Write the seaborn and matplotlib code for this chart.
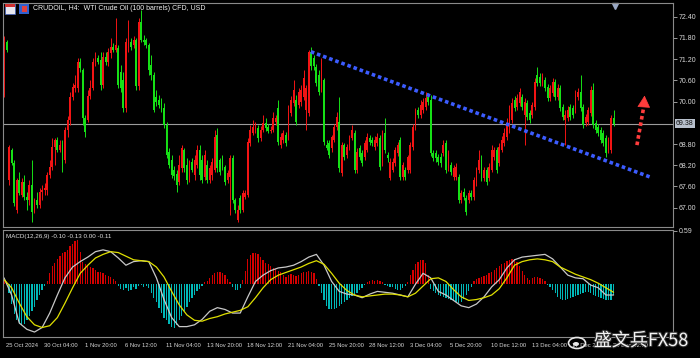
import matplotlib
matplotlib.use("Agg")
import numpy as np
import pandas as pd
import matplotlib.pyplot as plt
import seaborn as sns
from matplotlib.transforms import blended_transform_factory, ScaledTranslation
from matplotlib.patches import Rectangle, Ellipse
import matplotlib.patheffects as pe

# ---------------- data ----------------
opens = [
 70.19, 71.68, 67.78, 68.63, 68.26, 66.94, 67.78, 67.36, 67.73, 67.30,
 67.22, 67.64, 66.88, 67.22, 67.08, 67.44, 67.50, 67.50, 67.92, 68.15,
 68.72, 68.91, 68.63, 68.77, 68.35, 69.20, 69.48, 70.13, 70.38, 70.38,
 71.12, 70.89, 69.54, 69.48, 70.16, 70.38, 71.12, 71.23, 71.18, 70.47,
 71.26, 71.12, 71.37, 71.54, 71.46, 71.52, 70.84, 70.61, 69.82, 71.52,
 71.68, 71.60, 71.74, 70.44, 72.25, 71.74, 71.74, 71.60, 71.03, 70.75,
 70.13, 70.05, 69.99, 69.82, 69.34, 68.58, 68.35, 68.07, 67.95, 67.73,
 68.12, 68.63, 68.21, 67.78, 68.29, 67.92, 68.21, 68.63, 68.35, 67.87,
 68.21, 67.78, 67.92, 68.07, 69.06, 68.35, 68.43, 68.15, 67.78, 67.87,
 68.41, 67.22, 66.65, 67.27, 66.94, 67.30, 67.36, 68.83, 69.11, 69.20,
 69.25, 68.97, 69.20, 69.40, 69.28, 69.17, 69.20, 69.42, 69.82, 68.77,
 68.91, 69.06, 69.00, 69.68, 69.96, 70.05, 69.90, 69.99, 70.13, 69.76,
 69.68, 71.40, 71.23, 70.98, 70.75, 70.33, 70.61, 68.77, 68.83, 68.69,
 68.91, 69.28, 69.42, 67.98, 68.77, 68.49, 68.69, 68.97, 69.11, 68.07,
 68.69, 68.55, 68.43, 68.63, 68.97, 68.91, 68.72, 68.83, 68.97, 68.26,
 69.11, 68.49, 67.84, 68.07, 68.26, 68.55, 68.91, 67.87, 68.07, 68.07,
 68.07, 68.72, 69.28, 69.76, 69.62, 69.76, 69.85, 70.13, 70.05, 68.55,
 68.55, 68.43, 68.43, 68.55, 68.83, 68.12, 68.21, 67.87, 67.87, 67.87,
 67.22, 67.44, 67.27, 67.22, 67.42, 67.30, 67.70, 68.07, 68.35, 67.84,
 68.07, 67.84, 68.07, 68.43, 68.63, 68.26, 68.63, 68.83, 69.00, 69.20,
 69.48, 70.05, 69.85, 69.96, 70.13, 69.62, 69.96, 69.68, 69.62, 69.85,
 70.75, 70.70, 70.53, 70.61, 70.41, 70.10, 70.24, 70.55, 70.13, 70.38,
 69.85, 69.48, 69.54, 69.85, 69.82, 69.76, 70.13, 70.27, 69.85, 69.40,
 69.42, 69.68, 70.33, 69.40, 69.28, 69.20, 69.11, 68.97, 68.63, 68.63,
 69.54]
closes = [
 71.80, 71.46, 68.72, 68.26, 67.13, 67.78, 67.42, 67.73, 67.30, 67.22,
 67.64, 66.88, 67.22, 67.08, 67.44, 67.50, 67.56, 67.92, 68.15, 68.72,
 68.91, 68.63, 68.77, 68.26, 69.20, 69.48, 70.13, 70.41, 70.47, 71.12,
 70.95, 69.54, 69.14, 70.16, 70.38, 71.12, 71.23, 71.12, 70.47, 71.26,
 71.12, 71.40, 71.54, 71.46, 71.60, 70.47, 70.38, 69.82, 71.68, 71.74,
 71.54, 71.74, 70.44, 72.25, 71.74, 71.68, 71.60, 70.89, 70.75, 69.76,
 69.99, 69.90, 69.76, 69.34, 68.49, 68.21, 67.92, 67.90, 67.64, 68.21,
 68.69, 68.12, 67.78, 68.12, 68.07, 68.35, 68.63, 67.92, 67.78, 68.49,
 67.78, 68.12, 68.29, 69.00, 68.12, 68.01, 68.15, 67.73, 67.98, 68.41,
 67.22, 66.94, 66.94, 66.94, 67.42, 67.42, 68.86, 69.20, 69.28, 69.25,
 68.97, 69.20, 69.40, 69.25, 69.17, 69.20, 69.54, 69.54, 68.86, 69.00,
 69.11, 68.83, 69.68, 70.05, 70.33, 69.42, 70.27, 70.33, 70.67, 70.38,
 71.40, 71.01, 71.01, 70.53, 70.27, 71.09, 68.86, 68.69, 68.49, 69.00,
 69.28, 69.56, 68.12, 68.77, 68.43, 68.72, 68.97, 69.20, 68.07, 68.58,
 68.43, 68.26, 68.83, 69.00, 68.86, 68.83, 68.91, 69.00, 68.15, 69.11,
 68.63, 68.41, 68.29, 68.29, 68.63, 68.77, 67.87, 68.21, 67.87, 68.43,
 68.77, 69.28, 69.71, 69.62, 69.90, 69.99, 70.10, 69.99, 68.55, 68.41,
 68.41, 68.29, 68.26, 68.77, 68.07, 68.55, 68.01, 68.12, 68.15, 67.22,
 67.42, 67.30, 66.88, 67.42, 67.30, 67.78, 68.07, 68.35, 67.84, 68.07,
 67.73, 68.15, 68.63, 68.63, 68.07, 68.72, 68.91, 69.11, 69.40, 69.76,
 69.96, 69.82, 70.10, 70.27, 69.85, 69.99, 69.56, 69.48, 69.90, 70.55,
 70.53, 70.53, 70.70, 70.38, 70.10, 70.38, 70.55, 70.13, 70.38, 69.82,
 69.56, 69.62, 69.76, 69.56, 69.62, 70.19, 70.27, 69.82, 69.34, 69.56,
 69.76, 70.33, 69.34, 69.20, 69.11, 68.91, 68.83, 68.55, 68.91, 69.54,
 69.38]
highs = [
 71.85, 71.74, 68.77, 68.69, 68.35, 67.84, 68.01, 67.84, 67.92, 67.44,
 67.78, 68.35, 67.27, 67.44, 67.56, 67.64, 67.70, 68.01, 68.35, 68.97,
 68.97, 69.00, 68.91, 68.91, 69.28, 69.59, 70.27, 70.53, 70.75, 71.23,
 71.23, 70.95, 69.62, 70.33, 70.61, 71.23, 71.40, 71.32, 71.40, 71.40,
 71.40, 71.52, 71.80, 71.66, 72.36, 71.60, 71.03, 70.84, 71.80, 72.31,
 71.80, 71.85, 71.80, 72.36, 72.59, 71.88, 71.80, 71.66, 71.32, 70.84,
 70.33, 70.19, 70.10, 69.96, 69.42, 68.69, 68.49, 68.18, 68.07, 68.49,
 68.77, 68.69, 68.41, 68.35, 68.41, 68.49, 68.77, 68.77, 68.49, 68.63,
 68.35, 68.21, 68.41, 69.20, 69.25, 68.41, 68.49, 68.21, 68.07, 68.49,
 68.49, 67.27, 67.08, 67.36, 67.50, 67.50, 68.97, 69.34, 69.48, 69.42,
 69.34, 69.31, 69.62, 69.54, 69.37, 69.31, 69.71, 69.62, 70.05, 69.11,
 69.20, 69.14, 69.90, 70.16, 70.61, 70.19, 70.38, 70.47, 70.89, 70.47,
 71.46, 71.54, 71.32, 71.06, 70.89, 71.23, 70.67, 68.91, 68.91, 69.06,
 69.37, 69.71, 70.13, 68.86, 68.83, 68.80, 69.06, 69.34, 69.20, 68.69,
 68.77, 68.63, 68.91, 69.11, 69.06, 69.00, 69.03, 69.11, 69.06, 69.20,
 69.54, 68.58, 68.41, 68.41, 68.72, 68.86, 69.00, 68.29, 68.15, 68.49,
 68.86, 69.37, 69.82, 69.85, 70.05, 70.10, 70.27, 70.24, 70.19, 68.63,
 68.63, 68.52, 68.55, 68.91, 68.91, 68.63, 68.29, 68.21, 68.26, 67.95,
 67.50, 67.56, 67.36, 67.50, 67.50, 67.87, 68.15, 68.63, 68.49, 68.15,
 68.15, 68.26, 68.77, 68.72, 68.72, 68.83, 69.03, 69.25, 69.54, 69.90,
 70.10, 70.16, 70.21, 70.38, 70.21, 70.10, 70.05, 69.76, 69.99, 70.67,
 70.98, 70.81, 70.81, 70.70, 70.50, 70.47, 70.67, 70.64, 70.50, 70.47,
 69.93, 69.76, 69.88, 69.93, 69.90, 70.33, 70.38, 70.75, 69.93, 69.65,
 69.85, 70.44, 70.53, 69.48, 69.37, 69.28, 69.20, 69.06, 69.00, 69.62,
 69.76]
lows = [
 70.13, 71.40, 67.64, 68.21, 67.05, 66.85, 67.36, 67.30, 67.22, 66.94,
 67.08, 66.60, 66.85, 66.99, 66.99, 67.22, 67.36, 67.36, 67.84, 68.07,
 68.21, 68.58, 68.58, 68.01, 68.26, 69.00, 69.34, 70.05, 70.27, 70.27,
 70.84, 69.34, 69.00, 69.42, 70.07, 70.33, 71.01, 71.06, 70.33, 70.38,
 71.03, 71.01, 71.23, 71.40, 71.40, 70.38, 70.27, 69.71, 69.71, 71.40,
 71.46, 71.52, 70.33, 70.33, 71.68, 71.60, 71.52, 70.75, 70.61, 69.71,
 69.88, 69.82, 69.71, 69.25, 68.41, 68.12, 67.84, 67.78, 67.44, 67.64,
 68.01, 68.01, 67.67, 67.73, 68.01, 67.78, 68.12, 67.78, 67.70, 67.78,
 67.70, 67.70, 67.78, 68.01, 68.01, 67.92, 68.07, 67.64, 67.70, 66.79,
 67.13, 66.85, 66.60, 66.85, 66.88, 67.25, 67.30, 68.74, 69.06, 69.11,
 68.86, 68.89, 69.14, 69.17, 69.11, 69.11, 69.14, 69.34, 68.77, 68.69,
 68.83, 68.74, 68.91, 69.59, 69.88, 69.34, 69.82, 69.88, 70.05, 69.20,
 69.59, 70.89, 70.89, 70.44, 70.19, 70.27, 68.77, 68.63, 68.41, 68.58,
 68.86, 69.20, 68.01, 67.90, 68.35, 68.41, 68.63, 68.91, 67.98, 67.98,
 68.35, 68.18, 68.35, 68.58, 68.77, 68.74, 68.63, 68.74, 68.07, 68.18,
 68.55, 68.29, 67.78, 68.01, 68.18, 68.46, 67.78, 67.78, 67.78, 67.98,
 67.98, 68.63, 69.20, 69.54, 69.54, 69.68, 69.76, 69.90, 68.46, 68.32,
 68.29, 68.21, 68.15, 68.46, 67.98, 68.04, 67.92, 67.78, 67.78, 67.13,
 67.13, 67.22, 66.79, 67.13, 67.22, 67.22, 67.61, 67.98, 67.75, 67.75,
 67.64, 67.75, 68.01, 68.35, 67.98, 68.18, 68.58, 68.74, 68.91, 69.11,
 69.40, 69.73, 69.76, 69.88, 69.76, 68.77, 69.48, 69.40, 69.54, 69.76,
 70.44, 70.44, 70.44, 70.30, 70.02, 70.02, 70.16, 70.05, 70.05, 69.73,
 69.48, 68.77, 69.45, 69.48, 69.54, 69.68, 70.05, 69.73, 69.25, 69.31,
 69.34, 69.59, 69.25, 69.11, 69.03, 68.83, 68.74, 68.43, 68.55, 68.55,
 69.31]

macd_hist = [
 0.03, 0.00, -0.10, -0.22, -0.33, -0.40, -0.44, -0.45, -0.44, -0.40,
 -0.35, -0.30, -0.25, -0.18, -0.12, -0.06, -0.02, 0.04, 0.12, 0.20,
 0.24, 0.28, 0.31, 0.34, 0.36, 0.38, 0.42, 0.45, 0.48, 0.49,
 0.36, 0.25, 0.22, 0.20, 0.19, 0.18, 0.16, 0.14, 0.13, 0.12,
 0.10, 0.09, 0.08, 0.06, 0.04, -0.02, -0.05, -0.07, -0.04, -0.08,
 -0.06, -0.03, -0.05, -0.02, -0.01, -0.03, -0.02, -0.04, -0.10, -0.15,
 -0.20, -0.26, -0.32, -0.37, -0.40, -0.44, -0.47, -0.48, -0.45, -0.40,
 -0.35, -0.30, -0.25, -0.20, -0.15, -0.12, -0.08, -0.05, -0.02, 0.02,
 0.04, 0.07, 0.10, 0.12, 0.14, 0.13, 0.12, 0.10, 0.06, 0.02,
 -0.03, -0.06, -0.07, -0.04, 0.05, 0.15, 0.28, 0.32, 0.34, 0.35,
 0.33, 0.30, 0.27, 0.24, 0.22, 0.20, 0.18, 0.17, 0.15, 0.13,
 0.10, 0.08, 0.10, 0.11, 0.10, 0.09, 0.10, 0.12, 0.13, 0.14,
 0.15, 0.14, 0.12, 0.06, -0.02, -0.10, -0.18, -0.24, -0.27, -0.28,
 -0.28, -0.26, -0.24, -0.22, -0.20, -0.17, -0.15, -0.13, -0.12, -0.10,
 -0.07, -0.04, -0.01, 0.02, 0.04, 0.05, 0.04, 0.05, 0.04, 0.02,
 -0.01, -0.02, -0.03, -0.03, -0.05, -0.06, -0.06, -0.04, -0.02, 0.02,
 0.10, 0.16, 0.22, 0.25, 0.27, 0.27, 0.24, 0.10, -0.05, -0.08,
 -0.10, -0.12, -0.13, -0.14, -0.15, -0.16, -0.18, -0.19, -0.20, -0.21,
 -0.20, -0.16, -0.12, -0.08, -0.03, 0.04, 0.06, 0.07, 0.08, 0.09,
 0.10, 0.12, 0.14, 0.16, 0.18, 0.20, 0.22, 0.24, 0.26, 0.27,
 0.28, 0.28, 0.25, 0.20, 0.15, 0.10, 0.07, 0.05, 0.07, 0.08,
 0.08, 0.07, 0.06, 0.03, -0.01, -0.03, -0.06, -0.10, -0.14, -0.16,
 -0.17, -0.17, -0.16, -0.15, -0.14, -0.13, -0.12, -0.11, -0.10, -0.09,
 -0.09, -0.10, -0.12, -0.13, -0.14, -0.15, -0.16, -0.18, -0.18, -0.17,
 -0.12]

# MACD lines read every third candle
macd_main = [
 0.07, -0.12, -0.43, -0.50, -0.53, -0.48, -0.32, -0.12, 0.07, 0.19,
 0.25, 0.30, 0.36, 0.38, 0.36, 0.29, 0.21, 0.25, 0.26, 0.25,
 0.07, -0.17, -0.37, -0.47, -0.47, -0.45, -0.39, -0.30, -0.26, -0.28,
 -0.32, -0.32, -0.14, 0.03, 0.10, 0.15, 0.18, 0.19, 0.21, 0.25,
 0.30, 0.33, 0.21, 0.03, -0.08, -0.11, -0.12, -0.15, -0.11, -0.08,
 -0.09, -0.10, -0.12, -0.14, 0.00, 0.12, 0.07, -0.08, -0.12, -0.18,
 -0.24, -0.26, -0.22, -0.14, -0.03, 0.05, 0.18, 0.27, 0.30, 0.31,
 0.32, 0.33, 0.28, 0.19, 0.10, 0.07, 0.06, -0.01, -0.04, -0.12,
 -0.12]
macd_signal = [
 0.05, -0.04, -0.21, -0.36, -0.45, -0.48, -0.46, -0.37, -0.21, -0.04,
 0.12, 0.21, 0.29, 0.33, 0.36, 0.35, 0.31, 0.27, 0.26, 0.25,
 0.19, 0.08, -0.08, -0.23, -0.34, -0.40, -0.41, -0.38, -0.36, -0.33,
 -0.31, -0.29, -0.25, -0.15, -0.04, 0.05, 0.10, 0.13, 0.16, 0.19,
 0.23, 0.26, 0.22, 0.12, 0.01, -0.07, -0.12, -0.14, -0.13, -0.12,
 -0.11, -0.11, -0.12, -0.14, -0.10, -0.02, 0.06, 0.07, 0.03, -0.06,
 -0.14, -0.18, -0.17, -0.15, -0.12, -0.05, 0.07, 0.21, 0.25, 0.27,
 0.28, 0.27, 0.25, 0.19, 0.15, 0.11, 0.08, 0.05, 0.01, -0.04,
 -0.09]
macd_step = 3

price_ticks = [72.40, 71.80, 71.20, 70.60, 70.00, 68.80, 68.20, 67.60, 67.00]
last_price = 69.38
macd_top_label = 0.59

time_pos = [0, 15, 31, 47, 63, 79, 95, 111, 127, 143, 159, 175, 191, 207, 223, 239]
time_labels = ["25 Oct 2024", "30 Oct 04:00", "1 Nov 20:00", "6 Nov 12:00",
               "11 Nov 04:00", "13 Nov 20:00", "18 Nov 12:00", "21 Nov 04:00",
               "25 Nov 20:00", "28 Nov 12:00", "3 Dec 04:00", "5 Dec 20:00",
               "10 Dec 12:00", "13 Dec 04:00", "17 Dec 20:00", "20 Dec 12:00"]

# hand-drawn annotations on the chart (candle index, price)
trend_idx = [120.8, 254.3]
trend_price = [71.41, 67.87]
arrow_idx = [249.2, 251.9, 252.2]
arrow_price = [68.77, 69.86, 70.17]

title_text = "CRUDOIL, H4:  WTI Crude Oil (100 barrels) CFD, USD"
macd_text = "MACD(12,26,9) -0.10 -0.13 0.00 -0.11"
watermark = "盛文兵FX58"

# ---------------- styling ----------------
sns.set_theme(style="dark", rc={
    "axes.facecolor": "black", "figure.facecolor": "black",
    "axes.edgecolor": "#8a8a8a", "axes.linewidth": 0.8,
    "text.color": "#d8d8d8", "xtick.color": "#9a9a9a", "ytick.color": "#9a9a9a",
    "xtick.labelcolor": "#d8d8d8", "ytick.labelcolor": "#d8d8d8",
    "axes.grid": False})
plt.rcParams["font.family"] = ["Liberation Sans", "DejaVu Sans"]

BULL = "#f21414"
BEAR = "#16e016"
W, H = 700, 358
fig = plt.figure(figsize=(7.0, 3.58), dpi=100)
fig.patch.set_facecolor("black")


def frame(x0, y0, x1, y1):
    return [x0 / W, 1 - y1 / H, (x1 - x0) / W, (y1 - y0) / H]


ax = fig.add_axes(frame(3, 3, 673, 227))
axm = fig.add_axes(frame(3, 230, 673, 337), sharex=ax)

o = np.array(opens); c = np.array(closes); h = np.array(highs); l = np.array(lows)
idx = np.arange(len(c))
col = np.where(c >= o, BULL, BEAR)

# candles
ax.vlines(idx, l, h, colors=col, linewidth=0.7)
ax.bar(idx, np.maximum(np.abs(c - o), 0.015), bottom=np.minimum(o, c),
       width=0.72, color=col, linewidth=0)
ax.axhline(last_price, color="#9c9c9c", lw=0.8, zorder=0.5)

# trend line (blue dotted) and red dotted arrow
ax.plot(trend_idx, trend_price, color="#3c5cff", lw=2.6,
        linestyle=(0, (1, 0.8)), dash_capstyle="butt")
ax.plot(arrow_idx[:2], arrow_price[:2], color="#ff3c3c", lw=2.6,
        linestyle=(0, (1, 0.8)), dash_capstyle="butt")
ax.annotate("", xy=(arrow_idx[2], arrow_price[2]), xytext=(arrow_idx[1], arrow_price[1]),
            arrowprops=dict(arrowstyle="-|>,head_length=0.55,head_width=0.3",
                            color="#ff3c3c", lw=0.5, mutation_scale=14,
                            shrinkA=0, shrinkB=0))

ax.set_xlim(-0.4, 263.4)
ax.set_ylim(66.455, 72.787)
ax.yaxis.tick_right()
ax.set_yticks(price_ticks)
ax.set_yticklabels([f"{v:.2f}" for v in price_ticks])
ax.tick_params(axis="y", labelsize=5, length=3, width=0.7, pad=1)
ax.tick_params(axis="x", bottom=False, labelbottom=False)
for s in ax.spines.values():
    s.set_color("#8a8a8a"); s.set_linewidth(0.8)

# current price box
btr = blended_transform_factory(ax.transAxes, ax.transData)
ax.text(1.0 + 3 / 670, last_price, f"{last_price:.2f}", transform=btr,
        ha="left", va="center", fontsize=5, color="#101010",
        bbox=dict(boxstyle="square,pad=0.2", fc="#b8c0cc", ec="none"))
# chart-shift marker
ax.plot([idx[-1] + 0.5], [0.985], marker="v", color="#9aa8c4", markersize=4,
        transform=blended_transform_factory(ax.transData, ax.transAxes), clip_on=False)

# ---------------- MACD panel ----------------
hist = np.array(macd_hist)
axm.bar(idx, hist, width=0.5, color=np.where(hist >= 0, "#d40000", "#00b8b8"), linewidth=0)
mdf = pd.DataFrame({"i": np.arange(len(macd_main)) * macd_step,
                    "main": macd_main, "signal": macd_signal})
sns.lineplot(data=mdf, x="i", y="main", ax=axm, color="#c8c8c8", lw=0.9, legend=False)
sns.lineplot(data=mdf, x="i", y="signal", ax=axm, color="#e0e000", lw=0.9, legend=False)
axm.set_ylim(-0.585, 0.60)
axm.set_xlabel(""); axm.set_ylabel("")
axm.yaxis.tick_right()
axm.set_yticks([macd_top_label])
axm.set_yticklabels([f"{macd_top_label:.2f}"])
axm.tick_params(axis="y", labelsize=5, length=3, width=0.7, pad=1)
axm.set_xticks(time_pos)
axm.tick_params(axis="x", length=6, width=0.7, direction="out", labelbottom=False)
for s in axm.spines.values():
    s.set_color("#8a8a8a"); s.set_linewidth(0.8)
axm.text(0.004, 0.94, macd_text, transform=axm.transAxes, fontsize=4.5,
         color="#e0e0e0", ha="left", va="center")

ttr = blended_transform_factory(axm.transData, axm.transAxes) + \
    ScaledTranslation(2.0 / 100, 0, fig.dpi_scale_trans)
for p, lab in zip(time_pos, time_labels):
    axm.text(p, -0.075, lab, transform=ttr, ha="left", va="center",
             fontsize=4.2, color="#d8d8d8", clip_on=False)

ax.set_xlabel(""); ax.set_ylabel("")

# ---------------- header, icons, watermark ----------------
fig.text(33 / W, 1 - 9 / H, title_text, fontsize=5, color="#f0f0f0",
         ha="left", va="center")
fig.patches.append(Rectangle((5 / W, 1 - 14 / H), 10 / W, 10 / H, transform=fig.transFigure,
                             fc="#e8e8f0", ec="#4060c0", lw=0.5))
fig.patches.append(Rectangle((5 / W, 1 - 7 / H), 10 / W, 3 / H, transform=fig.transFigure,
                             fc="#d03030", ec="none"))
fig.patches.append(Rectangle((19 / W, 1 - 14 / H), 10 / W, 10 / H, transform=fig.transFigure,
                             fc="#3060d0", ec="none"))
fig.patches.append(Rectangle((22 / W, 1 - 12 / H), 5 / W, 6 / H, transform=fig.transFigure,
                             fc="#e04040", ec="none"))

fig.patches.append(Ellipse((577 / W, 1 - 343 / H), 17 / W, 11 / H, transform=fig.transFigure,
                           fc="none", ec="#e8e8e8", lw=1.2))
fig.patches.append(Ellipse((576 / W, 1 - 344 / H), 6 / W, 4 / H, transform=fig.transFigure,
                           fc="#e8e8e8", ec="none"))
fig.text(641 / W, 1 - 341 / H, watermark, fontsize=13, color="#f4f4f4",
         family=["Noto Sans CJK SC", "DejaVu Sans"], ha="center", va="center",
         path_effects=[pe.withStroke(linewidth=1.5, foreground="#303030")])

fig.savefig("out.png", dpi=100, facecolor="black")
